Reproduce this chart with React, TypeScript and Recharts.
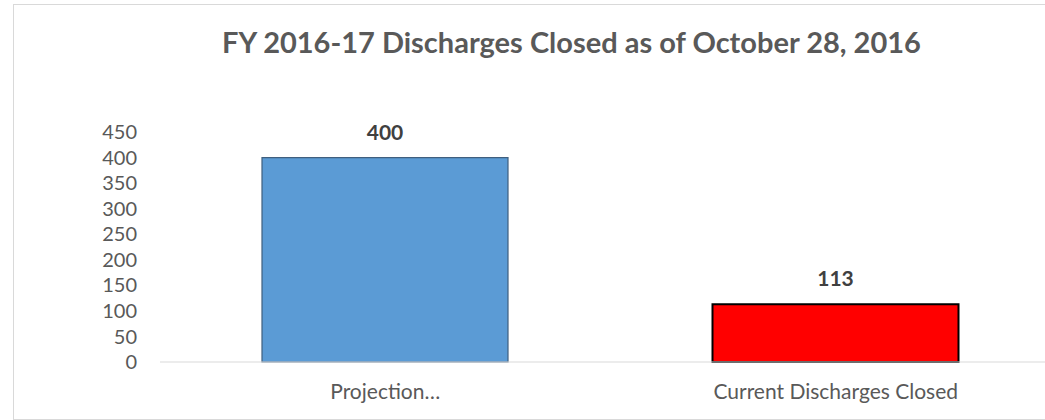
import { BarChart, Bar, XAxis, YAxis, Cell, LabelList } from "recharts";

// ─── Data ─────────────────────────────────────────────────────────────────────

const categories = ["Projection…", "Current Discharges Closed"];
const discharges = [400, 113];
const yTicks = [0, 50, 100, 150, 200, 250, 300, 350, 400, 450];

const barFills = ["#5B9BD5", "#FF0000"];
const barStrokes = ["#3F5F7F", "#000000"];
const barStrokeWidths = [1.2, 2];

const data = categories.map((name, i) => ({ name, value: discharges[i] }));

const FONT = "Lato, 'Open Sans', sans-serif";
const TEXT = "#595959";

export default function App() {
  return (
    <div
      style={{
        position: "fixed",
        left: 0,
        top: 0,
        width: 1045,
        height: 420,
        overflow: "hidden",
        background: "#fff",
        fontFamily: FONT,
      }}
    >
      {/* chart frame, right edge is cut off in the source */}
      <div
        style={{
          position: "absolute",
          left: 13,
          top: 4,
          width: 1100,
          height: 414,
          border: "1px solid #d9d9d9",
        }}
      />
      <div
        style={{
          position: "absolute",
          left: 0,
          width: 1143,
          top: 24,
          textAlign: "center",
          fontSize: 29,
          fontWeight: 700,
          color: TEXT,
          lineHeight: "36px",
        }}
      >
        FY 2016-17 Discharges Closed as of October 28, 2016
      </div>
      <div style={{ position: "absolute", left: 0, top: 0 }}>
        <BarChart
          width={1100}
          height={420}
          data={data}
          margin={{ top: 132, right: 39, bottom: 28, left: 0 }}
        >
          <XAxis
            dataKey="name"
            height={30}
            tickLine={false}
            tickSize={0}
            tickMargin={22}
            axisLine={{ stroke: "#d9d9d9", strokeWidth: 1 }}
            tick={{ fontSize: 21, fill: TEXT, fontFamily: FONT }}
            interval={0}
          />
          <YAxis
            width={160}
            domain={[0, 450]}
            ticks={yTicks}
            interval={0}
            axisLine={false}
            tickLine={false}
            tickSize={0}
            tickMargin={23}
            tick={{ fontSize: 20, fill: TEXT, fontFamily: FONT }}
          />
          <Bar dataKey="value" barSize={246} isAnimationActive={false}>
            {data.map((d, i) => (
              <Cell
                key={d.name}
                fill={barFills[i]}
                stroke={barStrokes[i]}
                strokeWidth={barStrokeWidths[i]}
              />
            ))}
            <LabelList
              dataKey="value"
              position="top"
              offset={18}
              style={{
                fontSize: 21,
                fontWeight: 700,
                fill: "#404040",
                fontFamily: FONT,
              }}
            />
          </Bar>
        </BarChart>
      </div>
    </div>
  );
}
